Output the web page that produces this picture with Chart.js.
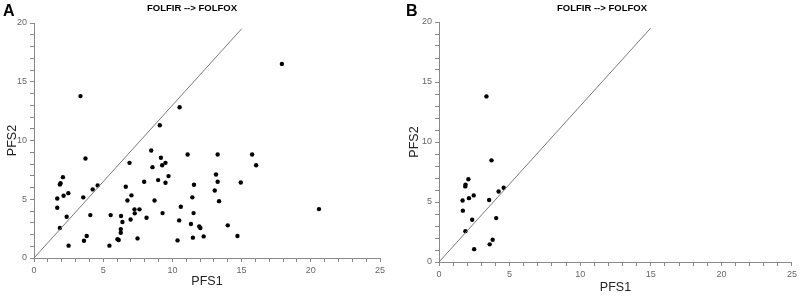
<!DOCTYPE html>
<html><head><meta charset="utf-8">
<script src="https://cdn.jsdelivr.net/npm/chart.js@4.4.1/dist/chart.umd.min.js"></script>
<style>
html,body{margin:0;padding:0;background:#fff;width:800px;height:298px;overflow:hidden}
canvas{position:absolute;top:0}
#cA{left:0}
#cB{left:400px}
</style></head><body>
<canvas id="cA" width="400" height="298"></canvas>
<canvas id="cB" width="400" height="298"></canvas>
<script>
// ---- data ----
const pfs1A = [3.72,2.09,1.92,1.87,1.68,2.14,2.48,1.68,2.36,1.87,2.50,3.56,4.24,4.60,4.07,3.81,3.61,
  5.45,5.54,6.29,6.39,6.27,6.27,6.03,6.12,7.48,6.98,6.75,7.04,6.63,6.90,7.26,7.28,7.62,7.96,8.13,
  8.47,8.56,8.71,8.97,9.17,9.26,9.50,9.72,9.50,9.29,10.37,10.49,10.61,11.10,11.34,11.44,11.53,11.56,
  11.48,11.94,12.02,12.26,13.06,13.15,13.27,13.27,13.37,14.00,14.70,14.94,15.76,16.05,
  3.36,9.09,10.52,17.91,20.59];
const pfs2A = [8.47,6.88,6.37,6.26,5.07,5.30,5.52,4.28,3.51,2.55,1.05,5.16,5.84,6.18,3.65,1.87,1.47,
  1.05,3.65,3.57,3.06,2.46,2.15,1.59,1.53,1.67,3.28,4.90,5.33,6.06,8.10,4.14,3.80,4.14,6.49,3.43,
  9.15,7.73,4.90,6.63,8.53,7.90,8.10,6.97,6.40,3.82,1.50,3.20,4.36,8.81,2.89,5.16,3.82,6.23,
  1.73,2.69,2.55,1.84,5.75,7.11,6.49,8.81,4.84,2.78,1.87,6.43,8.81,7.90,
  13.78,11.30,12.83,16.52,4.16];
const pfs1B = [3.36,3.72,2.08,1.88,1.86,1.67,2.12,2.46,1.69,2.35,1.87,2.49,3.55,4.22,4.58,4.05,3.80,3.59];
const pfs2B = [13.8,8.47,6.90,6.45,6.30,5.12,5.32,5.55,4.28,3.52,2.57,1.07,5.17,5.87,6.19,3.66,1.85,1.47];
const refLineX = [0, 15];
const refLineY = [0, 19.5];
const xTickLabels = [0, 5, 10, 15, 20, 25];
const yTickLabels = [0, 5, 10, 15, 20];
const panelTitle = 'FOLFIR --> FOLFOX';
const xAxisTitle = 'PFS1';
const yAxisTitle = 'PFS2';

const FONT = '"Liberation Sans", Arial, Helvetica, sans-serif';

const textPlugin = {
  id: 'panelText',
  afterDraw(chart, args, o) {
    const ctx = chart.ctx;
    ctx.save();
    ctx.fillStyle = '#000';
    ctx.textBaseline = 'alphabetic';
    ctx.textAlign = 'left';
    ctx.font = 'bold 16px ' + FONT;
    ctx.fillText(o.letter, o.letterX, o.letterY);
    ctx.textAlign = 'center';
    ctx.font = 'bold 9.5px ' + FONT;
    ctx.fillText(panelTitle, o.titleX, o.titleY);
    ctx.restore();
  }
};

function makeChart(id, xs, ys, p) {
  const pts = xs.map((x, i) => ({x: x, y: ys[i]}));
  const line = refLineX.map((x, i) => ({x: x, y: refLineY[i]}));
  const gridOpts = {display: true, drawOnChartArea: false, drawTicks: true, tickLength: 4, color: '#8a8a8a', lineWidth: 1};
  const borderOpts = {display: true, color: '#8a8a8a', width: 1};
  return new Chart(document.getElementById(id), {
    type: 'scatter',
    data: {datasets: [
      {data: line, showLine: true, borderColor: '#7a7a7a', borderWidth: 1, pointRadius: 0, pointHoverRadius: 0, fill: false},
      {data: pts, backgroundColor: '#000', borderColor: '#000', pointRadius: 2.2, borderWidth: 0}
    ]},
    options: {
      responsive: false, animation: false, devicePixelRatio: 1,
      layout: {padding: {left: 0, top: p.padTop, right: p.padRight, bottom: 0}},
      plugins: {legend: {display: false}, tooltip: {enabled: false}, title: {display: false},
        panelText: {letter: p.letter, letterX: p.letterX, letterY: 16, titleX: p.titleX, titleY: 11}},
      scales: {
        x: {type: 'linear', min: 0, max: 25,
          afterFit: s => { s.height = p.axisH; },
          grid: gridOpts, border: borderOpts,
          ticks: {stepSize: 1, autoSkip: false, maxRotation: 0, padding: 3, color: '#666',
            font: {family: FONT, size: 9},
            callback: v => xTickLabels.includes(v) ? String(v) : ''},
          title: {display: true, text: xAxisTitle, color: '#222', font: {family: FONT, size: 12.5},
            padding: {top: 0, bottom: p.xTitlePad}}
        },
        y: {type: 'linear', min: 0, max: 20,
          afterFit: s => { s.width = p.axisW; },
          grid: gridOpts, border: borderOpts,
          ticks: {stepSize: 1, autoSkip: false, padding: 3, color: '#666',
            font: {family: FONT, size: 9},
            callback: v => yTickLabels.includes(v) ? String(v) : ''},
          title: {display: true, text: yAxisTitle, color: '#222', font: {family: FONT, size: 12.5},
            padding: {top: p.yTitlePad, bottom: 0}}
        }
      }
    },
    plugins: [textPlugin]
  });
}

makeChart('cA', pfs1A, pfs2A, {letter: 'A', letterX: 3, titleX: 192, padTop: 23, padRight: 20,
  axisW: 34, axisH: 40, xTitlePad: 8.5, yTitlePad: 5.2});
makeChart('cB', pfs1B, pfs2B, {letter: 'B', letterX: 6, titleX: 202, padTop: 22, padRight: 5,
  axisW: 39, axisH: 36, xTitlePad: 3, yTitlePad: 7});
</script>
</body></html>
